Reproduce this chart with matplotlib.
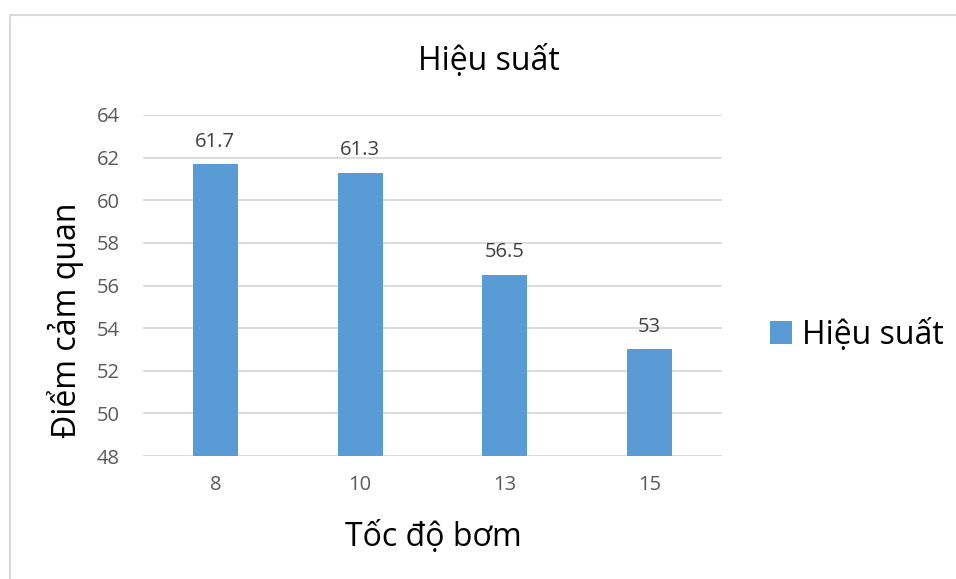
import matplotlib.pyplot as plt
from matplotlib.patches import Rectangle

# pump speed categories and sensory scores
categories = ['8', '10', '13', '15']
scores = [61.7, 61.3, 56.5, 53]
score_labels = ['61.7', '61.3', '56.5', '53']
y_ticks = [48, 50, 52, 54, 56, 58, 60, 62, 64]

plt.rcParams['font.family'] = ['Open Sans', 'DejaVu Sans']

fig = plt.figure(figsize=(9.56, 5.79), dpi=100)
ax = fig.add_axes([143 / 956, 1 - 456 / 579, 579 / 956, 341 / 579])

# light frame around the chart
fig.patches.append(Rectangle((9.5 / 956, -0.1), 2, 1.1 - 15.5 / 579,
                             transform=fig.transFigure, fill=False,
                             edgecolor='#d9d9d9', linewidth=1.5))

x = range(len(categories))
bars = ax.bar(x, [s - 48 for s in scores], bottom=48, width=0.31,
              color='#5B9BD5', label='Hiệu suất', zorder=3)

for xi, s, lab in zip(x, scores, score_labels):
    ax.annotate(lab, (xi, s), xytext=(0, 9), textcoords='offset points',
                ha='center', va='bottom', fontsize=14.5, color='#404040')

ax.set_xlim(-0.5, len(categories) - 0.5)
ax.set_ylim(48, 64)
ax.set_yticks(y_ticks)
ax.set_xticks(list(x))
ax.set_xticklabels(categories)
ax.tick_params(axis='both', length=0, labelsize=14.5, colors='#595959')
ax.tick_params(axis='x', pad=14)
ax.tick_params(axis='y', pad=17)
ax.grid(axis='y', color='#d9d9d9', linewidth=1.3, zorder=0)
for sp in ax.spines.values():
    sp.set_visible(False)

# titles placed in figure coords, like the spreadsheet layout
fig.text(489 / 956, 1 - 62 / 579, 'Hiệu suất', fontsize=23,
         ha='center', va='center', color='black')
fig.text(433 / 956, 1 - 538 / 579, 'Tốc độ bơm', fontsize=23,
         ha='center', va='center', color='black')
fig.text(66 / 956, 1 - 320 / 579, 'Điểm cảm quan', fontsize=23,
         ha='center', va='center', rotation=90, color='black')

ax.legend(loc='center left', bbox_to_anchor=(741 / 956, 1 - 335 / 579),
          bbox_transform=fig.transFigure, frameon=False,
          fontsize=23, handlelength=0.7, handleheight=0.7, handletextpad=0.3)

fig.savefig('out.png', dpi=100)
